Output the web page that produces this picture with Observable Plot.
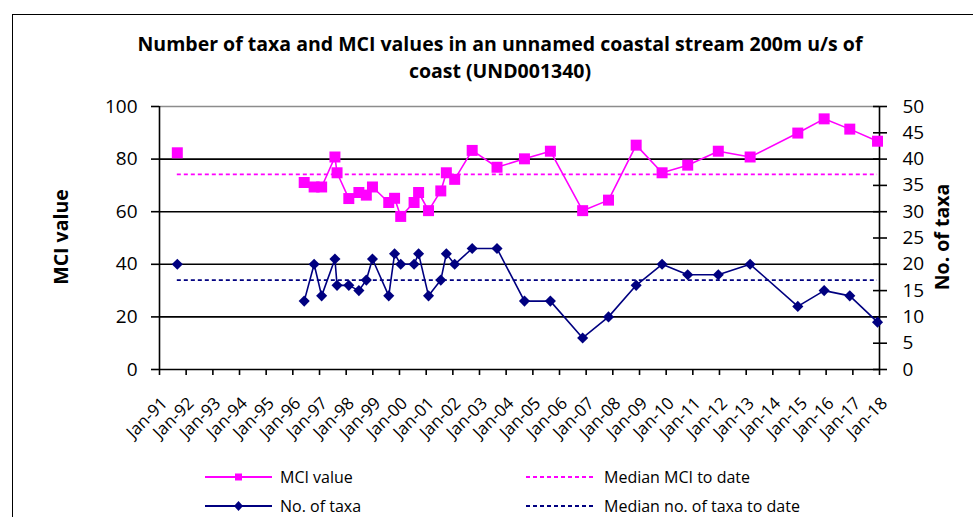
<!DOCTYPE html>
<html><head><meta charset="utf-8">
<script src="https://cdn.jsdelivr.net/npm/d3@7"></script>
<script src="https://cdn.jsdelivr.net/npm/@observablehq/plot@0.6"></script>
<style>
body{margin:0;background:#fff;font-family:"Open Sans",sans-serif;color:#000;}
#wrap{position:relative;width:973px;height:517px;overflow:hidden;background:#fff;}
#frame{position:absolute;left:12px;top:14px;width:1100px;height:700px;border-left:1.5px solid #000;border-top:1.5px solid #000;}
#title{position:absolute;left:0;top:30px;width:1000px;text-align:center;font-weight:bold;font-size:19.5px;line-height:27px;}
.ylab{position:absolute;font-weight:bold;font-size:19.5px;white-space:nowrap;transform:translate(-50%,-50%) rotate(-90deg);}
#chart{position:absolute;left:0;top:0;}
.leg{position:absolute;font-size:16px;white-space:nowrap;display:flex;align-items:center;}
.leg svg{margin-right:8px;}
</style></head>
<body>
<div id="wrap">
  <div id="frame"></div>
  <div id="title">Number of taxa and MCI values in an unnamed coastal stream 200m u/s of<br>coast (UND001340)</div>
  <div id="chart"></div>
  <div class="ylab" style="left:60px;top:237px;">MCI value</div>
  <div class="ylab" style="left:941px;top:237px;">No. of taxa</div>
  <div id="legend"></div>
</div>
<script>
// ---- data ----
const sampleDates = ["1991-09-02","1996-06-05","1996-10-19","1997-01-30","1997-07-31","1997-08-29","1998-02-06","1998-06-24","1998-10-04","1998-12-27","1999-08-07","1999-10-26","2000-01-18","2000-07-19","2000-09-19","2001-02-02","2001-07-20","2001-10-04","2002-01-26","2002-09-23","2003-08-29","2004-09-08","2005-08-29","2006-11-14","2007-11-03","2008-11-16","2009-11-06","2010-10-23","2011-12-16","2013-02-24","2014-12-09","2015-12-05","2016-11-20","2017-12-05"];
const mciValues = [82.4,71.1,69.4,69.4,80.8,74.8,65.0,67.3,66.3,69.4,63.5,65.1,58.2,63.5,67.3,60.4,67.9,74.8,72.3,83.3,76.9,80.1,83.0,60.4,64.4,85.3,74.8,77.7,83.0,80.8,89.9,95.3,91.4,86.8];
const taxaValues = [20,13,20,14,21,16,16,15,17,21,14,22,20,20,22,14,17,22,20,23,23,13,13,6,10,16,20,18,18,20,12,15,14,9];
const medianMCI = 74.2;
const medianTaxa = 17;
const mciTicks = [0,20,40,60,80,100];
const taxaTicks = [0,5,10,15,20,25,30,35,40,45,50];
const gridValues = [20,40,60,80];
const axisStart = "1991-01-01", axisEnd = "2018-01-01";

const MAG = "#FF00FF", NAVY = "#000080";
const parse = d3.utcParse("%Y-%m-%d");
const data = sampleDates.map((d,i)=>({date:parse(d), mci:mciValues[i], taxa:taxaValues[i]}));
// break the line where sampling paused for several years
let run = 0;
data.forEach((d,i)=>{ if(i>0 && (d.date - data[i-1].date) > 3*365*864e5) run++; d.run = run; });
const x0 = parse(axisStart), x1 = parse(axisEnd);
const yearTicks = d3.utcYear.range(x0, d3.utcDay.offset(x1,1));
const ratio = 100/50; // MCI units per taxon on the shared scale
const first = data[0].date, last = data[data.length-1].date;

const H = 450;
const chart = Plot.plot({
  width: 973, height: H,
  marginLeft: 159, marginRight: 94, marginTop: 106, marginBottom: H - 369,
  style: {fontFamily: '"Open Sans", sans-serif', color: "#000", background: "transparent", overflow: "visible"},
  x: {type: "utc", domain: [x0, x1]},
  y: {domain: [0, 100]},
  marks: [
    Plot.ruleY(gridValues, {stroke: "#000", strokeWidth: 1.6}),
    Plot.ruleY([100], {stroke: "#8c8c8c", strokeWidth: 1.6}),
    Plot.ruleY([0], {stroke: "#000", strokeWidth: 1.6}),
    Plot.ruleX([x0, x1], {stroke: "#000", strokeWidth: 1.6}),
    Plot.axisY({anchor: "left", ticks: mciTicks, tickSize: 8, tickPadding: 14, fontSize: 19, label: null, strokeWidth: 1.6}),
    Plot.axisY({anchor: "right", ticks: taxaTicks.map(t=>t*ratio), tickSize: 14, dx: -7, tickFormat: () => "", label: null, strokeWidth: 1.6}),
    Plot.axisY({anchor: "right", ticks: taxaTicks.map(t=>t*ratio), tickSize: 0, tickPadding: 23, tickFormat: d => d/ratio, fontSize: 19, label: null}),
    Plot.axisX({ticks: yearTicks, tickSize: 6, tickFormat: () => "", label: null, strokeWidth: 1.6}),
    Plot.axisX({ticks: yearTicks, tickFormat: d3.utcFormat("%b-%y"), tickRotate: -45, tickSize: 0, tickPadding: 31, dx: 5, fontSize: 17, label: null}),
    Plot.ruleY([medianMCI], {x1: first, x2: last, stroke: MAG, strokeWidth: 1.6, strokeDasharray: "4,3"}),
    Plot.ruleY([medianTaxa*ratio], {x1: first, x2: last, stroke: NAVY, strokeWidth: 1.6, strokeDasharray: "4,3"}),
    Plot.line(data, {x: "date", y: "mci", z: "run", stroke: MAG, strokeWidth: 1.6}),
    Plot.dot(data, {x: "date", y: "mci", symbol: "square", r: 6.2, fill: MAG, stroke: "none"}),
    Plot.line(data, {x: "date", y: d => d.taxa*ratio, z: "run", stroke: NAVY, strokeWidth: 1.6}),
    Plot.dot(data, {x: "date", y: d => d.taxa*ratio, symbol: "diamond2", r: 5, fill: NAVY, stroke: "none"})
  ]
});
document.getElementById("chart").appendChild(chart);

// legend
const legendItems = [
  {label: "MCI value", color: MAG, dash: null, marker: "square", left: 205, top: 477},
  {label: "No. of taxa", color: NAVY, dash: null, marker: "diamond", left: 205, top: 506},
  {label: "Median MCI to date", color: MAG, dash: "4,3", marker: null, left: 526, top: 477},
  {label: "Median no. of taxa to date", color: NAVY, dash: "4,3", marker: null, left: 526, top: 506}
];
const leg = document.getElementById("legend");
legendItems.forEach(it => {
  const div = document.createElement("div");
  div.className = "leg";
  div.style.left = it.left + "px";
  div.style.top = (it.top - 11) + "px";
  const w = it.marker ? 67 : 70;
  let m = "";
  if (it.marker === "square") m = `<rect x="${w/2-3.5}" y="7.5" width="7" height="7" fill="${it.color}"/>`;
  if (it.marker === "diamond") m = `<path d="M${w/2},6 L${w/2+4.5},11 L${w/2},16 L${w/2-4.5},11Z" fill="${it.color}"/>`;
  div.innerHTML = `<svg width="${w}" height="22"><line x1="0" x2="${w}" y1="11" y2="11" stroke="${it.color}" stroke-width="${it.marker?2.2:1.8}" ${it.dash?`stroke-dasharray="${it.dash}"`:""}/>${m}</svg><span>${it.label}</span>`;
  leg.appendChild(div);
});
</script>
</body></html>
